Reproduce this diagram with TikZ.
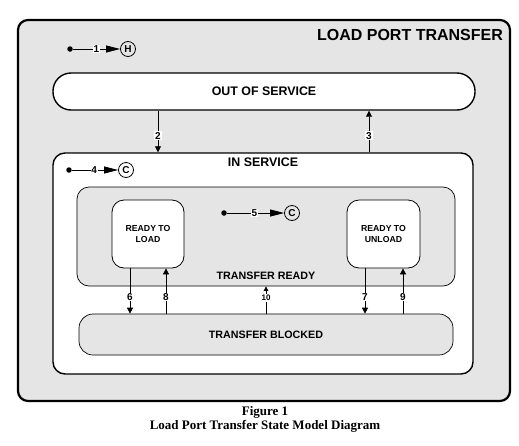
\documentclass[tikz,border=0pt]{standalone}
\usepackage{fontspec}
\setmainfont{Liberation Sans}
\newfontfamily\capfont{Liberation Serif}
\usetikzlibrary{arrows.meta}
\begin{document}
\begin{tikzpicture}[x=1pt,y=-1pt,
  box/.style={draw, rectangle, inner sep=0pt},
  ttl/.style={font=\fontsize{16}{19}\selectfont\bfseries, inner sep=0pt},
  stt/.style={font=\fontsize{12.4}{14}\selectfont\bfseries, inner sep=0pt},
  smt/.style={font=\fontsize{10.7}{13}\selectfont\bfseries, inner sep=0pt},
  tnt/.style={font=\fontsize{8.7}{11}\selectfont\bfseries, align=center},
  lbl/.style={font=\fontsize{10}{11}\selectfont\bfseries, fill=white, inner sep=0.8pt},
  lbls/.style={font=\fontsize{8}{9}\selectfont\bfseries, fill=white, inner sep=0.8pt},
  arr/.style={-{Triangle[length=6pt,width=6pt]}, line width=0.8pt},
  arrs/.style={-{Triangle[length=4.5pt,width=4.5pt]}, line width=0.7pt},
  initarr/.style={-{Triangle[length=14pt,width=7pt]}, line width=0.8pt},
  initdot/.style={circle, fill, inner sep=0pt, minimum size=5.5pt},
  pseudo/.style={circle, draw, line width=0.8pt, inner sep=0pt, minimum size=15pt, font=\fontsize{10}{10}\selectfont\bfseries},
  captxt/.style={font=\capfont\bfseries\fontsize{13}{15}\selectfont, inner sep=0pt}
]
\useasboundingbox (0,0) rectangle (519,445);
% outer
\node[box, fill=gray!20, line width=2.2pt, rounded corners=10pt, minimum width=492pt, minimum height=381pt] (outer) at (264,210.5) {};
\node[ttl] (title) at (410,35) {LOAD PORT TRANSFER};
% initial 1
\node[initdot] (d1) at (70,49) {};
\node[pseudo] (H) at (128,49) {H};
\draw[initarr] (d1) -- node[lbl, pos=0.5] {1} (H);
% out of service
\node[box, fill=white, line width=1.4pt, rounded corners=18pt, minimum width=422pt, minimum height=37pt, stt] (oos) at (264,91.5) {OUT OF SERVICE};
% in service
\node[box, fill=white, line width=1.4pt, rounded corners=12pt, minimum width=420pt, minimum height=221pt] (ins) at (263,263.5) {};
\node[stt] (institle) at (263,162.5) {IN SERVICE};
\draw[arr] ([xshift=-106pt]oos.south) -- node[lbl, pos=0.6] {2} ([xshift=-105pt]ins.north);
\draw[arr] ([xshift=106pt]ins.north) -- node[lbl, pos=0.4] {3} ([xshift=105pt]oos.south);
% initial 4
\node[initdot] (d4) at (69,170) {};
\node[pseudo] (C1) at (126,170) {C};
\draw[initarr] (d4) -- node[lbl, pos=0.48] {4} (C1);
% transfer ready
\node[box, fill=gray!20, line width=0.7pt, rounded corners=12pt, minimum width=378pt, minimum height=99pt] (tr) at (266,236.5) {};
\node[smt] (trtitle) at (266,276) {TRANSFER READY};
\node[box, fill=white, line width=0.8pt, rounded corners=12pt, minimum width=72pt, minimum height=68pt, tnt] (rtl) at (148,234) {READY TO\\LOAD};
\node[box, fill=white, line width=0.8pt, rounded corners=12pt, minimum width=73pt, minimum height=68pt, tnt] (rtu) at (383.5,234) {READY TO\\UNLOAD};
% initial 5
\node[initdot] (d5) at (224,213) {};
\node[pseudo] (C2) at (292,213) {C};
\draw[initarr] (d5) -- node[lbl, pos=0.48] {5} (C2);
% transfer blocked
\node[box, fill=gray!20, line width=0.7pt, rounded corners=14pt, minimum width=374pt, minimum height=41pt, smt] (tb) at (266,334.5) {TRANSFER BLOCKED};
% transitions
\draw[arr] ([xshift=-18pt]rtl.south) -- node[lbl, pos=0.63] {6} ([xshift=-136pt]tb.north);
\draw[arr] ([xshift=-100pt]tb.north) -- node[lbl, pos=0.37] {8} ([xshift=18pt]rtl.south);
\draw[arrs] (tb.north) -- node[lbls, pos=0.57] {10} (tr.south);
\draw[arr] ([xshift=-18.5pt]rtu.south) -- node[lbl, pos=0.63] {7} ([xshift=99pt]tb.north);
\draw[arr] ([xshift=137pt]tb.north) -- node[lbl, pos=0.37] {9} ([xshift=19.5pt]rtu.south);
% caption
\node[captxt] (fig) at (265,412) {Figure 1};
\node[captxt] (figt) at (265,426.5) {Load Port Transfer State Model Diagram};
\end{tikzpicture}
\end{document}
